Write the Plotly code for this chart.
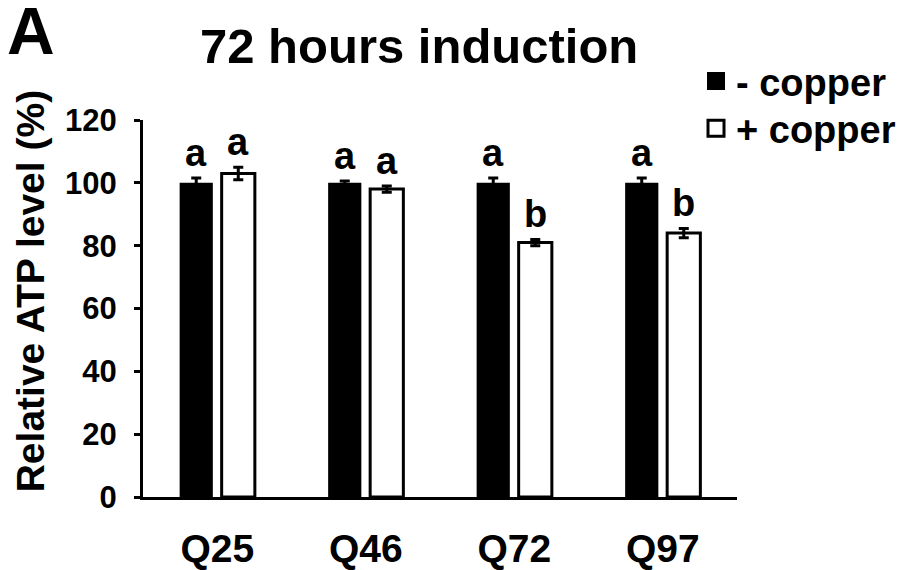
import plotly.graph_objects as go

categories = ["Q25", "Q46", "Q72", "Q97"]
minus_copper = [100, 100, 100, 100]
minus_err = [1.5, 0.6, 1.5, 1.5]
plus_copper = [103, 98, 81, 84]
plus_err = [2.0, 1.0, 1.0, 1.5]
letters_minus = ["a", "a", "a", "a"]
letters_plus = ["a", "a", "b", "b"]
y_ticks = [0, 20, 40, 60, 80, 100, 120]

FONT = "Liberation Sans, Arial, sans-serif"

fig = go.Figure()
fig.add_trace(go.Bar(
    x=categories, y=minus_copper, name="- copper", showlegend=False,
    marker=dict(color="black", line=dict(color="black", width=0)),
    error_y=dict(type="data", array=minus_err, color="black", thickness=3, width=5),
))
fig.add_trace(go.Bar(
    x=categories, y=plus_copper, name="+ copper", showlegend=False,
    marker=dict(color="white", line=dict(color="black", width=3)),
    error_y=dict(type="data", array=plus_err, color="black", thickness=3, width=5),
))
# legend proxies
fig.add_trace(go.Scatter(
    x=[None], y=[None], mode="markers", name="- copper", legend="legend",
    marker=dict(symbol="square", size=16, color="black", line=dict(color="black", width=2)),
))
fig.add_trace(go.Scatter(
    x=[None], y=[None], mode="markers", name="+ copper", legend="legend2",
    marker=dict(symbol="square", size=16, color="white", line=dict(color="black", width=3)),
))

offset = 0.14
for i, cat in enumerate(categories):
    fig.add_annotation(x=i - offset, y=minus_copper[i] + minus_err[i], xref="x", yref="y",
                       text=letters_minus[i], showarrow=False, yanchor="bottom", yshift=2,
                       font=dict(family=FONT, size=38, color="black", weight="bold"))
    fig.add_annotation(x=i + offset, y=plus_copper[i] + plus_err[i], xref="x", yref="y",
                       text=letters_plus[i], showarrow=False, yanchor="bottom", yshift=2,
                       font=dict(family=FONT, size=38, color="black", weight="bold"))

fig.add_annotation(x=0.465, y=1.195, xref="paper", yref="paper", text="72 hours induction",
                   showarrow=False, xanchor="center", yanchor="middle",
                   font=dict(family=FONT, size=49, color="black", weight="bold"))
fig.add_annotation(x=-0.189, y=1.236, xref="paper", yref="paper", text="A",
                   showarrow=False, xanchor="center", yanchor="middle",
                   font=dict(family=FONT, size=66, color="black", weight="bold"))
# y-axis title (placed as rotated text)
fig.add_annotation(x=-0.19, y=0.546, xref="paper", yref="paper", text="Relative ATP level (%)",
                   showarrow=False, xanchor="center", yanchor="middle", textangle=-90,
                   font=dict(family=FONT, size=39, color="black", weight="bold"))

legend_font = dict(family=FONT, size=38, color="black", weight="bold")
fig.update_layout(
    width=907, height=562,
    margin=dict(l=135, r=178, t=112, b=73, autoexpand=False),
    paper_bgcolor="white", plot_bgcolor="white",
    barmode="group", bargap=0.434, bargroupgap=0.21,
    font=dict(family=FONT, color="black"),
    legend=dict(x=0.931, y=1.186, xanchor="left", yanchor="top",
                font=legend_font, bgcolor="rgba(0,0,0,0)", borderwidth=0,
                itemsizing="trace"),
    legend2=dict(x=0.931, y=1.061, xanchor="left", yanchor="top",
                 font=legend_font, bgcolor="rgba(0,0,0,0)", borderwidth=0,
                 itemsizing="trace"),
    xaxis=dict(showline=True, linewidth=3, linecolor="black", ticks="",
               showgrid=False, zeroline=False, automargin=False,
               tickfont=dict(family=FONT, size=39, color="black", weight="bold"),
               ticklabelstandoff=15),
    yaxis=dict(range=[0, 120], tickvals=y_ticks, showline=True, linewidth=3, linecolor="black",
               ticks="outside", ticklen=6, tickwidth=3, tickcolor="black",
               showgrid=False, zeroline=False, automargin=False,
               tickfont=dict(family=FONT, size=31, color="black", weight="bold"),
               ticklabelstandoff=11),
)

fig.write_html("out.html")
